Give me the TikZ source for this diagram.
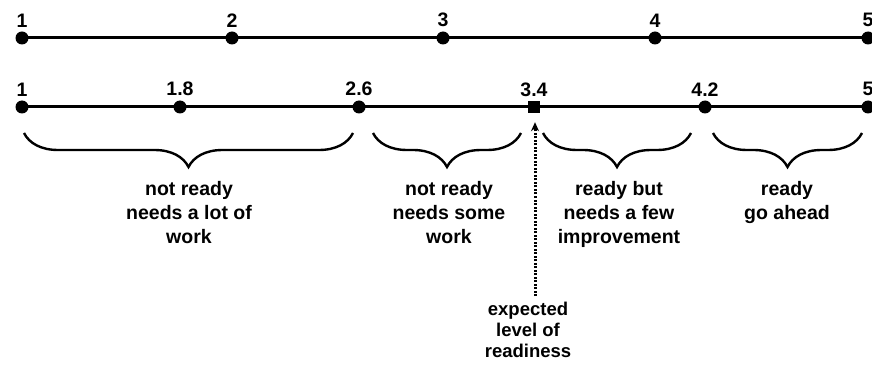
\documentclass[tikz,border=0pt]{standalone}
\usepackage{fontspec}
\setmainfont{Liberation Sans}
\usetikzlibrary{decorations.pathreplacing,arrows.meta}
\begin{document}
\begin{tikzpicture}[x=1pt,y=-1pt,
  dot/.style={circle,fill=black,inner sep=0pt,minimum size=13pt},
  sqmark/.style={rectangle,fill=black,inner sep=0pt,minimum size=12pt},
  num/.style={font=\fontsize{19.5}{22}\selectfont\bfseries,inner sep=0pt},
  every label/.style={num},
  label distance=4pt,
  axis/.style={line width=3pt},
  brc/.style={line width=2.4pt,decorate,decoration={brace,amplitude=34pt}},
  desc/.style={font=\fontsize{19.5}{24}\selectfont\bfseries,align=center,inner sep=0pt,anchor=north},
  desc2/.style={font=\fontsize{18.5}{21}\selectfont\bfseries,align=center,inner sep=0pt,anchor=north}
]
\useasboundingbox (0,0) rectangle (872,374);
% top scale
\node[dot,label=above:1] (a1) at (22,38) {};
\node[dot,label=above:2] (a2) at (232,38) {};
\node[dot,label=above:3] (a3) at (443,38) {};
\node[dot,label=above:4] (a4) at (655,38) {};
\node[dot,label=above:5] (a5) at (868,38) {};
\draw[axis] (a1.center) -- (a5.center);
% bottom scale
\node[dot,label=above:1] (b1) at (22,107) {};
\node[dot,label=above:1.8] (b2) at (180,107) {};
\node[dot,label=above:2.6] (b3) at (359,107) {};
\node[sqmark,label=above:3.4] (b4) at (534,107) {};
\node[dot,label=above:4.2] (b5) at (705,107) {};
\node[dot,label=above:5] (b6) at (868,107) {};
\draw[axis] (b1.center) -- (b6.center);
% braces
\coordinate (c1l) at (24,133);  \coordinate (c1r) at (353,133);
\coordinate (c2l) at (373,133); \coordinate (c2r) at (521,133);
\coordinate (c3l) at (543,133); \coordinate (c3r) at (691,133);
\coordinate (c4l) at (713,133); \coordinate (c4r) at (862,133);
\draw[brc] (c1r) -- (c1l);
\draw[brc] (c2r) -- (c2l);
\draw[brc] (c3r) -- (c3l);
\draw[brc] (c4r) -- (c4l);
% descriptions
\node[desc] (t1) at (189,181) {not ready\\needs a lot of\\work};
\node[desc] (t2) at (449,181) {not ready\\needs some\\work};
\node[desc] (t3) at (619,181) {ready but\\needs a few\\improvement};
\node[desc] (t4) at (787,181) {ready\\go ahead};
\node[desc2] (t5) at (528,302) {expected\\level of\\readiness};
% arrow
\coordinate (ab) at (535,296);
\draw[line width=3pt,dash pattern=on 2pt off 1.5pt,-{Stealth[length=9pt,width=8pt]},shorten >=9pt] (ab) -- (b4.south -| ab);
\end{tikzpicture}
\end{document}
